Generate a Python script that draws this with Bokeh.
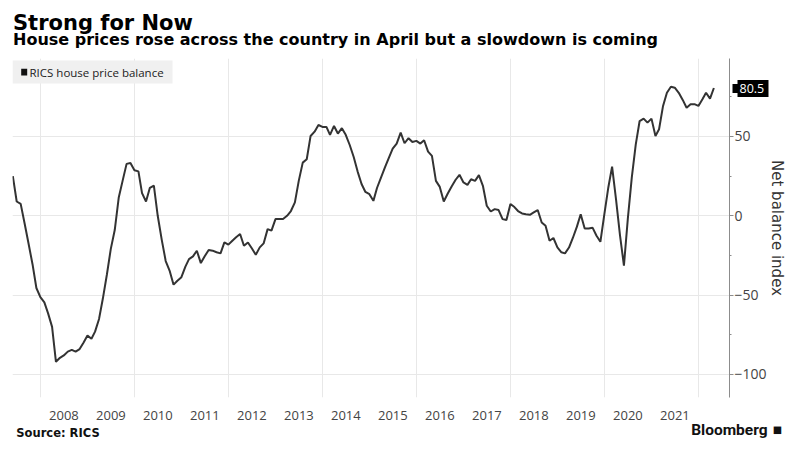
import pandas as pd
from bokeh.plotting import figure
from bokeh.layouts import column
from bokeh.models import (Label, FixedTicker, DatetimeTickFormatter, Range1d, BoxAnnotation,
                          LinearAxis, Div)
from bokeh.embed import file_html
from bokeh.resources import INLINE

# ---- data (RICS house price balance, monthly, May 2007 - Apr 2022) ----
first_month = "2007-05-01"
values_2007 = [25, 9, 7.5, -5, -17.5, -30.5, -45.5, -51.3]
values_2008 = [-54.6, -61.5, -70, -92, -89.5, -88, -85.6, -84.5, -85.6, -84, -80, -75.5]
values_2009 = [-77.5, -73, -65, -52, -37, -21, -9, 11.5, 22, 32.7, 33.3, 28.7]
values_2010 = [28, 14.3, 9, 17.6, 19, 0, -15, -28.5, -34.5, -43.4, -40.9, -38.7]
values_2011 = [-32, -27.3, -25.6, -22, -29.8, -25.5, -21.6, -22, -23, -23.7, -16.8, -18.2]
values_2012 = [-15.7, -13.5, -11.5, -18.9, -16.8, -20.5, -24.5, -19.9, -17.4, -8.4, -9.4, -2.1]
values_2013 = [-2.1, -2, 0, 3, 8.4, 22, 33.5, 35.6, 50.3, 53, 57.2, 56]
values_2014 = [56, 51, 56.6, 51.8, 55.2, 51, 44.6, 37, 28, 20, 15, 13.6]
values_2015 = [9.4, 17.5, 24, 30.3, 36.5, 42.3, 45.5, 52.4, 45.7, 48.9, 46.5, 47.2]
values_2016 = [45.5, 47.6, 40.4, 37.7, 22, 18.2, 9, 14, 18.5, 22.7, 25.8, 21]
values_2017 = [19.5, 23, 22, 25.6, 18.9, 6.3, 2.7, 4.2, 3.6, -2.1, -2.7, 7.4]
values_2018 = [5.5, 3, 1.5, 1, 0.6, 2.1, 3.6, -4.2, -6.3, -15.7, -14, -19.9]
values_2019 = [-23, -23.7, -20, -14, -7, 1, -8, -8, -7.5, -12.6, -16.4, 1]
values_2020 = [18, 31, 10, -12, -31.4, -2.1, 24, 45, 59.7, 61.2, 58.7, 61.2]
values_2021 = [50.3, 54.5, 69.2, 77.5, 81.3, 80.7, 77.5, 73, 68.1, 70.3, 70.3, 69.2]
values_2022 = [73.4, 77.5, 73.8, 80.5]

values = (values_2007 + values_2008 + values_2009 + values_2010 + values_2011 +
          values_2012 + values_2013 + values_2014 + values_2015 + values_2016 +
          values_2017 + values_2018 + values_2019 + values_2020 + values_2021 + values_2022)
dates = pd.date_range(first_month, periods=len(values), freq="MS") + pd.offsets.MonthEnd(0)

year_labels = list(range(2008, 2022))
grid_years = list(range(2008, 2023, 2))
y_ticks = [-100, -50, 0, 50]
y_minor = [-75, -25, 25, 75]
last_value = values[-1]

title = "Strong for Now"
subtitle = "House prices rose across the country in April but a slowdown is coming"
series_name = "RICS house price balance"
y_title = "Net balance index"
source = "Source: RICS"
brand = "Bloomberg"


def ms(ts):
    return pd.Timestamp(ts).value / 1e6


YEAR_MS = 365.25 * 86400000.0
t0 = ms("2008-01-01")
PX_PER_YEAR = 47.0


def x_at(px):
    """data x (ms) of a horizontal pixel position on the page"""
    return int(round(t0 + (px - 40) / PX_PER_YEAR * YEAR_MS))


x_start = t0 - 28 / PX_PER_YEAR * YEAR_MS
x_end = t0 + 689 / PX_PER_YEAR * YEAR_MS

# ---------------- header ----------------
font_css = ("font-family:'DejaVu Sans';font-weight:bold;color:#000;white-space:nowrap;"
            "position:absolute;")
head_html = (
    '<div style="position:relative;width:805px;height:58px;">'
    f'<div style="{font_css}left:13px;top:15px;font-size:21px;line-height:16px;">{title}</div>'
    f'<div style="{font_css}left:13px;top:33px;font-size:16px;line-height:13px;">{subtitle}</div>'
    '</div>'
)
head = Div(text=head_html, width=805, height=58, margin=0)

# ---------------- main chart ----------------
p = figure(width=805, height=404, x_axis_type="datetime", y_axis_location="right",
           x_range=Range1d(x_start, x_end), y_range=Range1d(-114.5, 99.1),
           output_backend="svg", toolbar_location=None, title=None,
           min_border_left=12, min_border_right=76, min_border_top=0, min_border_bottom=65)
p.outline_line_color = None
p.background_fill_color = "white"
p.border_fill_color = "white"

p.line(dates, values, line_color="#333333", line_width=2)

xa = p.xaxis[0]
xa.ticker = FixedTicker(ticks=[ms(f"{y}-07-01") for y in year_labels])
xa.formatter = DatetimeTickFormatter(years="%Y", months="%Y", days="%Y", hours="%Y",
                                     minutes="%Y", seconds="%Y", milliseconds="%Y",
                                     microseconds="%Y", minsec="%Y", hourmin="%Y")
xa.axis_line_color = None
xa.major_tick_line_color = None
xa.minor_tick_line_color = None
xa.major_tick_out = 0
xa.major_tick_in = 0
xa.major_label_standoff = 13
xa.major_label_text_font = "Open Sans"
xa.major_label_text_font_size = "13px"
xa.major_label_text_color = "#444444"

ya = p.yaxis[0]
ya.ticker = FixedTicker(ticks=y_ticks, minor_ticks=y_minor)
ya.axis_line_color = "#8c8c8c"
ya.major_tick_line_color = "#8c8c8c"
ya.minor_tick_line_color = "#8c8c8c"
ya.major_tick_in = 0
ya.major_tick_out = 4
ya.minor_tick_in = 0
ya.minor_tick_out = 2
ya.major_label_standoff = 1
ya.major_label_text_font = "Open Sans"
ya.major_label_text_font_size = "14px"
ya.major_label_text_color = "#444444"

p.xgrid.ticker = FixedTicker(ticks=[ms(f"{y}-01-01") for y in grid_years])
p.xgrid.grid_line_color = "#e8e8e8"
p.ygrid.grid_line_color = "#e8e8e8"

# last-value tag + y title: an outer right axis whose single thick tick is the black tag
S = 38  # approx. width of the main y-axis panel
tag = LinearAxis(ticker=FixedTicker(ticks=[last_value], minor_ticks=[last_value]))
tag.axis_line_color = None
tag.major_tick_line_color = "#000000"
tag.major_tick_line_width = 17
tag.major_tick_line_cap = "butt"
tag.major_tick_in = S - 6
tag.major_tick_out = 37 - S
tag.minor_tick_line_color = "#000000"
tag.minor_tick_line_width = 9
tag.minor_tick_line_cap = "butt"
tag.minor_tick_in = S - 1
tag.minor_tick_out = 7 - S
tag.major_label_standoff = -29
tag.major_label_text_font = "Open Sans"
tag.major_label_text_font_size = "12.5px"
tag.major_label_text_color = "#ffffff"
tag.axis_label = y_title
tag.axis_label_text_font = "DejaVu Sans"
tag.axis_label_text_font_size = "15px"
tag.axis_label_text_font_style = "normal"
tag.axis_label_text_color = "#333333"
tag.axis_label_standoff = 1
p.add_layout(tag, "right")


def footer_axis(px, text, font, size, standoff):
    t = x_at(px)
    ax = LinearAxis(ticker=FixedTicker(ticks=[t]), major_label_overrides={t: text})
    ax.axis_line_color = None
    ax.major_tick_line_color = None
    ax.minor_tick_line_color = None
    ax.major_tick_in = 0
    ax.major_tick_out = 0
    ax.major_label_standoff = standoff
    ax.major_label_text_font = font
    ax.major_label_text_font_style = "bold"
    ax.major_label_text_font_size = size
    ax.major_label_text_color = "#111111"
    p.add_layout(ax, "below")


footer_axis(57.5, source, "DejaVu Sans", "11.5px", 3)
footer_axis(727.5, "\u2003\u200a" + brand + "\u2004\u25a0", "Roboto", "15.5px", -22)

# legend (inside the frame)
p.add_layout(BoxAnnotation(left=0, right=160, top=337, bottom=314,
                           left_units="screen", right_units="screen",
                           top_units="screen", bottom_units="screen",
                           fill_color="#f0f0f0", fill_alpha=1, line_color=None))
p.add_layout(BoxAnnotation(left=8.7, right=14.7, top=328.7, bottom=322,
                           left_units="screen", right_units="screen",
                           top_units="screen", bottom_units="screen",
                           fill_color="#111111", fill_alpha=1, line_color=None))
p.add_layout(Label(x=17, y=325, x_units="screen", y_units="screen", text=series_name,
                   text_font="Open Sans", text_font_size="11.5px", text_color="#222222",
                   text_baseline="middle"))

layout = column(head, p, spacing=0)
open("out.html", "w").write(file_html(layout, INLINE))
